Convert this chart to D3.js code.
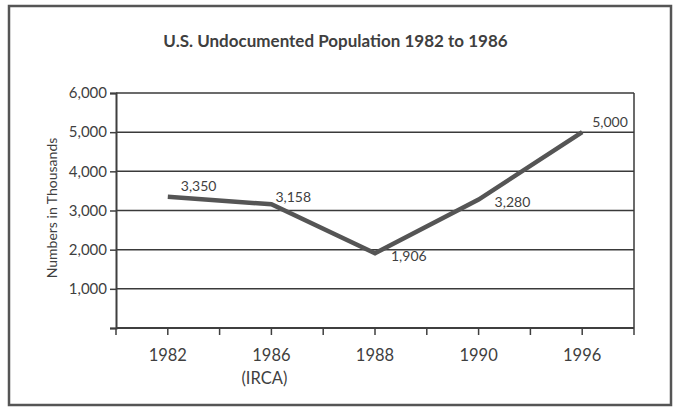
<!DOCTYPE html>
<html>
<head>
<meta charset="utf-8">
<script src="https://cdn.jsdelivr.net/npm/d3@7"></script>
<style>
  body { margin: 0; background: #fff; }
  svg { display: block; font-family: Lato, "Open Sans", sans-serif; }
</style>
</head>
<body>
<svg id="chart"></svg>
<script>
// data
var years = ["1982", "1986", "1988", "1990", "1996"];
var yearNotes = ["", "(IRCA)", "", "", ""];
var population = [3350, 3158, 1906, 3280, 5000];
var yTicks = [0, 1000, 2000, 3000, 4000, 5000, 6000];

var W = 673, H = 407;
var margin = { top: 93, right: 39, bottom: 79, left: 116 };
var width = W - margin.left - margin.right,
    height = H - margin.top - margin.bottom;

var ink = "#3f3f3f";

var svg = d3.select("#chart")
    .attr("width", W)
    .attr("height", H);

// outer frame
svg.append("rect")
    .attr("x", 9).attr("y", 6)
    .attr("width", 662).attr("height", 399)
    .attr("fill", "none")
    .attr("stroke", "#555")
    .attr("stroke-width", 2.5);

// title
svg.append("text")
    .attr("x", 335.5)
    .attr("y", 47)
    .attr("text-anchor", "middle")
    .style("font-size", "17px")
    .style("font-weight", "bold")
    .style("fill", ink)
    .text("U.S. Undocumented Population 1982 to 1986");

var g = svg.append("g")
    .attr("transform", "translate(" + margin.left + "," + margin.top + ")");

var x = d3.scaleBand()
    .domain(years)
    .range([0, width])
    .padding(0);

var y = d3.scaleLinear()
    .domain([0, 6000])
    .range([height, 0]);

// gridlines
g.selectAll(".grid")
    .data(yTicks.filter(function (d) { return d > 0; }))
    .enter()
    .append("line")
    .attr("class", "grid")
    .attr("x1", 0).attr("x2", width)
    .attr("y1", function (d) { return y(d); })
    .attr("y2", function (d) { return y(d); })
    .attr("stroke", "#3a3a3a")
    .attr("stroke-width", 1.5);

// right border of plot
g.append("line")
    .attr("x1", width).attr("x2", width)
    .attr("y1", 0).attr("y2", height)
    .attr("stroke", "#3a3a3a")
    .attr("stroke-width", 1.5);

// y axis
var yAxis = d3.axisLeft(y)
    .tickValues(yTicks)
    .tickSize(6)
    .tickPadding(3)
    .tickFormat(function (d) { return d ? d3.format(",")(d) : ""; });

var gy = g.append("g").call(yAxis);
gy.select(".domain").attr("stroke", ink).attr("stroke-width", 2);
gy.selectAll(".tick line").attr("stroke", ink).attr("stroke-width", 1.5);
gy.selectAll("text")
    .style("font-family", "Lato, sans-serif")
    .style("font-size", "15px")
    .attr("fill", ink);

// y axis title
svg.append("text")
    .attr("transform", "translate(57," + (margin.top + 115) + ") rotate(-90)")
    .attr("text-anchor", "middle")
    .style("font-size", "14px")
    .style("fill", ink)
    .text("Numbers in Thousands");

// x axis
var gx = g.append("g").attr("transform", "translate(0," + height + ")");
gx.append("line")
    .attr("x1", 0).attr("x2", width)
    .attr("stroke", ink)
    .attr("stroke-width", 2);

var tickXs = [];
years.forEach(function (d) {
    tickXs.push(x(d));
    tickXs.push(x(d) + x.bandwidth() / 2);
});
tickXs.push(width);

gx.selectAll(".xtick")
    .data(tickXs)
    .enter()
    .append("line")
    .attr("class", "xtick")
    .attr("x1", function (d) { return d; })
    .attr("x2", function (d) { return d; })
    .attr("y1", 0).attr("y2", 7)
    .attr("stroke", ink)
    .attr("stroke-width", 1.5);

gx.selectAll(".xlab")
    .data(years)
    .enter()
    .append("text")
    .attr("class", "xlab")
    .attr("x", function (d) { return x(d) + x.bandwidth() / 2; })
    .attr("y", 33)
    .attr("text-anchor", "middle")
    .style("font-size", "16.5px")
    .style("fill", ink)
    .text(function (d) { return d; });

gx.selectAll(".xnote")
    .data(years)
    .enter()
    .append("text")
    .attr("class", "xnote")
    .attr("x", function (d) { return x(d) + x.bandwidth() / 2 - 7; })
    .attr("y", 56)
    .attr("text-anchor", "middle")
    .style("font-size", "16.5px")
    .style("fill", ink)
    .text(function (d, i) { return yearNotes[i]; });

// line
var pts = years.map(function (d, i) { return { year: d, value: population[i] }; });

var line = d3.line()
    .x(function (d) { return x(d.year) + x.bandwidth() / 2; })
    .y(function (d) { return y(d.value); });

g.append("path")
    .datum(pts)
    .attr("d", line)
    .attr("fill", "none")
    .attr("stroke", "#555")
    .attr("stroke-width", 4.5)
    .attr("stroke-linejoin", "miter");

// value labels (offsets from each point)
var labelOffset = [[13, -6], [4, -2], [16, 8], [16, 7], [10, -5]];

g.selectAll(".val")
    .data(pts)
    .enter()
    .append("text")
    .attr("class", "val")
    .attr("x", function (d, i) { return x(d.year) + x.bandwidth() / 2 + labelOffset[i][0]; })
    .attr("y", function (d, i) { return y(d.value) + labelOffset[i][1]; })
    .style("font-size", "14px")
    .style("fill", ink)
    .text(function (d) { return d3.format(",")(d.value); });
</script>
</body>
</html>
